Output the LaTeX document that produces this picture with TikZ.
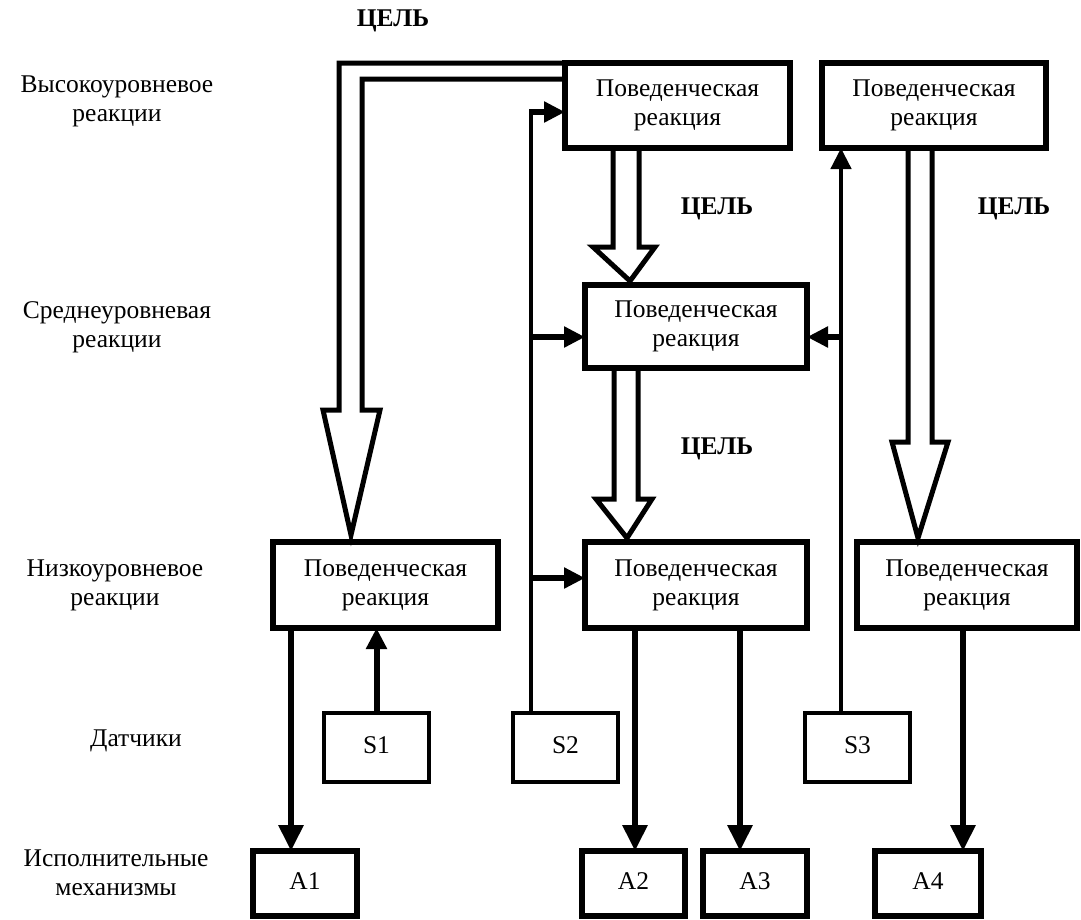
\documentclass[tikz,border=0pt]{standalone}
\usepackage{fontspec}
\setmainfont{Liberation Serif}
\usetikzlibrary{arrows.meta,calc}
\newcommand\dfont{\fontsize{25.5}{29}\selectfont}
\newcommand\up[1]{\raisebox{5pt}{#1}}
\begin{document}
\begin{tikzpicture}[x=1pt,y=-1pt,
  box/.style={draw, line width=5.5pt, inner sep=0pt, outer sep=0pt, align=center, font=\dfont},
  sbox/.style={draw, line width=4pt, inner sep=0pt, outer sep=0pt, align=center, font=\dfont},
  lbl/.style={align=center, font=\dfont, inner sep=0pt},
  goal/.style={font=\dfont\bfseries, inner sep=0pt},
  thickline/.style={line width=6pt},
  tipS/.style={-{Triangle[length=21pt,width=20pt]}},
  tipA/.style={-{Triangle[length=26pt,width=24pt]}},
  hollow/.style={line width=5pt, line join=miter}]
\fill[white] (0,0) rectangle (1081,919);
\useasboundingbox (0,0) rectangle (1081,919);

% level labels
\node[lbl] (lv1) at (117,101) {Высокоуровневое\\реакции};
\node[lbl] (lv2) at (117,327) {Среднеуровневая\\реакции};
\node[lbl] (lv3) at (115,585) {Низкоуровневое\\реакции};
\node[lbl] (lv4) at (136,741) {Датчики};
\node[lbl] (lv5) at (116,873) {Исполнительные\\механизмы};

% goal labels
\node[goal] (g0) at (393,21) {ЦЕЛЬ};
\node[goal] (g1) at (717,209) {ЦЕЛЬ};
\node[goal] (g2) at (1014,209) {ЦЕЛЬ};
\node[goal] (g3) at (717,449) {ЦЕЛЬ};

% behaviour boxes
\node[box, minimum width=225pt, minimum height=85pt] (H1) at (677.5,105.5) {Поведенческая\\реакция};
\node[box, minimum width=224pt, minimum height=85pt] (H2) at (934,105.5) {Поведенческая\\реакция};
\node[box, minimum width=222pt, minimum height=83pt] (M) at (696,326.5) {Поведенческая\\реакция};
\node[box, minimum width=225pt, minimum height=86pt] (L1) at (385.5,585) {Поведенческая\\реакция};
\node[box, minimum width=222pt, minimum height=86pt] (L2) at (696,585) {Поведенческая\\реакция};
\node[box, minimum width=220pt, minimum height=86pt] (L3) at (967,585) {Поведенческая\\реакция};

% sensors
\node[sbox, minimum width=105pt, minimum height=69pt] (S1) at (376.5,747.5) {\up{S1}};
\node[sbox, minimum width=105pt, minimum height=69pt] (S2) at (565.5,747.5) {\up{S2}};
\node[sbox, minimum width=105pt, minimum height=69pt] (S3) at (857.5,747.5) {\up{S3}};

% actuators
\node[box, minimum width=104pt, minimum height=65pt] (A1) at (305,883.5) {\up{A1}};
\node[box, minimum width=103pt, minimum height=65pt] (A2) at (633.5,883.5) {\up{A2}};
\node[box, minimum width=104pt, minimum height=65pt] (A3) at (755,883.5) {\up{A3}};
\node[box, minimum width=106pt, minimum height=65pt] (A4) at (928,883.5) {\up{A4}};

% hollow goal arrows
\draw[hollow] (H1.north west) -- (339,63) -- (339,410) -- (323,410) -- (351,535)
  -- (380,410) -- (362,410) -- (362,79) -- (H1.west |- 0,79);
\draw[hollow] (613,0 |- H1.south) -- (613,247) -- (593,247) -- (630,281)
  -- (655,247) -- (639,247) -- (639,0 |- H1.south);
\draw[hollow] (614,0 |- M.south) -- (614,499) -- (596,499) -- (627,538)
  -- (652,499) -- (638,499) -- (638,0 |- M.south);
\draw[hollow] (908,0 |- H2.south) -- (908,442) -- (892,442) -- (918,538)
  -- (948,442) -- (932,442) -- (932,0 |- H2.south);

% sensor S2 feedback
\coordinate (s2a) at (531,112);
\coordinate (s2b) at (531,337);
\coordinate (s2c) at (531,578);
\draw[line width=3.5pt] (s2a |- S2.north) -- (531,109);
\draw[thickline, tipS] (529.25,112) -- (s2a -| H1.west);
\draw[thickline, tipS] (s2b) -- (s2b -| M.west);
\draw[thickline, tipS] (s2c) -- (s2c -| L2.west);

% sensor S3
\coordinate (s3a) at (841,337);
\draw[line width=4.5pt, tipS] (s3a |- S3.north) -- (s3a |- H2.south);
\draw[thickline, tipS] (s3a) -- (s3a -| M.east);

% sensor S1
\draw[thickline, tipS] (S1.north) -- (S1.north |- L1.south);

% outputs to actuators
\coordinate (a1x) at (291,0);
\coordinate (a2x) at (635,0);
\coordinate (a3x) at (740,0);
\coordinate (a4x) at (963,0);
\draw[thickline, tipA] (a1x |- L1.south) -- (a1x |- A1.north);
\draw[thickline, tipA] (a2x |- L2.south) -- (a2x |- A2.north);
\draw[thickline, tipA] (a3x |- L2.south) -- (a3x |- A3.north);
\draw[thickline, tipA] (a4x |- L3.south) -- (a4x |- A4.north);
\end{tikzpicture}
\end{document}
